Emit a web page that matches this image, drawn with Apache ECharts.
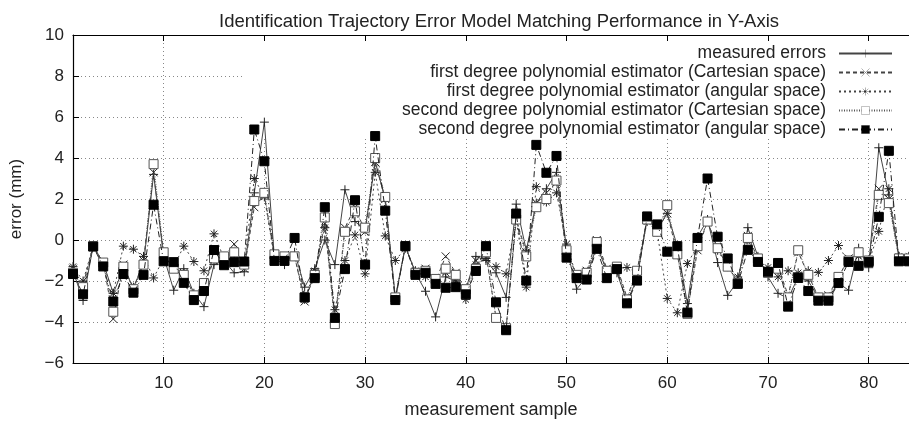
<!DOCTYPE html>
<html><head><meta charset="utf-8">
<script src="https://cdn.jsdelivr.net/npm/echarts@6/dist/echarts.min.js"></script>
<style>html,body{margin:0;padding:0;background:#fff}#c{width:909px;height:424px}</style>
</head><body><div id="c"></div>
<script>
const samples = [1,2,3,4,5,6,7,8,9,10,11,12,13,14,15,16,17,18,19,20,21,22,23,24,25,26,27,28,29,30,31,32,33,34,35,36,37,38,39,40,41,42,43,44,45,46,47,48,49,50,51,52,53,54,55,56,57,58,59,60,61,62,63,64,65,66,67,68,69,70,71,72,73,74,75,76,77,78,79,80,81,82,83,84];

const measured = [-1.5,-2.95,-0.3,-1.1,-2.6,-1.4,-2.3,-1.2,3.2,-0.8,-2.45,-1.4,-2.6,-3.25,-1.2,-1.0,-1.6,-1.55,2.3,5.75,-0.9,-1.2,-0.6,-2.3,-1.4,0.0,-1.2,2.45,0.9,0.5,3.8,2.0,-2.8,-0.3,-1.6,-2.5,-3.75,-1.8,-2.0,-2.4,-0.8,-1.0,-1.6,-2.8,1.75,-0.5,1.8,2.5,3.3,-0.4,-2.4,-1.8,-0.3,-1.5,-1.6,-3.0,-1.9,1.05,0.5,1.3,-0.3,-3.1,0.15,1.0,-1.1,-2.7,-2.0,0.6,-0.8,-1.8,-2.6,-2.85,-1.8,-2.0,-2.8,-2.8,-2.1,-2.45,-0.4,-1.35,4.5,2.2,-0.8,-0.8];

const firstCart = [-1.4,-2.2,-0.3,-1.1,-3.85,-1.2,-2.4,-1.0,3.3,-0.7,-1.4,-1.6,-2.7,-2.2,-1.0,-0.8,-0.2,-1.4,1.6,2.2,-0.8,-0.9,-0.8,-3.0,-1.6,0.8,-4.0,0.6,1.6,0.4,3.8,2.0,-2.9,-0.3,-1.6,-1.4,-2.0,-0.8,-1.6,-2.4,-1.0,-0.7,-3.8,-4.3,1.0,-0.6,1.8,2.3,2.8,-0.6,-1.7,-1.5,0.0,-1.4,-1.3,-2.8,-1.5,1.0,0.5,1.3,-0.7,-3.5,-0.5,0.9,-0.4,-1.3,-2.0,0.2,-0.9,-1.6,-1.3,-2.7,-0.6,-1.7,-2.8,-2.7,-1.8,-0.9,-0.6,-1.0,2.5,2.0,-0.9,-0.9];

const firstAng = [-1.3,-2.0,-0.3,-1.2,-2.6,-0.3,-0.45,-0.8,-1.85,-0.9,-1.3,-0.3,-1.05,-1.5,0.3,-0.9,-1.0,-1.2,3.0,2.1,-0.9,-1.0,-0.8,-2.9,-1.5,0.6,-3.4,-1.0,0.25,-1.65,3.3,0.2,-1.0,-0.4,-1.5,-1.8,-1.9,-1.6,-2.0,-2.9,-1.2,-0.9,-1.3,-1.65,1.0,-2.3,2.6,1.85,2.3,-0.2,-1.8,-1.6,-0.2,-1.5,-1.4,-1.34,-1.6,0.9,0.4,-2.85,-3.55,-1.15,-0.3,0.9,-0.5,-1.3,-1.8,0.0,-1.0,-1.34,-1.8,-1.5,-1.6,-1.5,-1.58,-1.0,-0.27,-1.1,-0.8,-1.1,0.42,2.5,-0.8,-0.8];

const secondCart = [-1.6,-2.3,-0.3,-1.1,-3.5,-1.3,-2.4,-1.2,3.7,-0.6,-1.4,-1.7,-2.7,-2.1,-0.9,-0.8,-0.6,-1.2,1.9,2.3,-0.7,-0.8,-0.8,-2.8,-1.7,1.1,-4.1,0.4,1.4,0.6,4.0,2.1,-2.8,-0.3,-1.6,-1.5,-1.9,-1.4,-1.7,-2.4,-1.4,-0.6,-3.8,-4.3,1.0,-0.8,1.6,2.0,2.9,-0.5,-1.7,-1.6,-0.1,-1.5,-1.3,-2.9,-1.5,1.0,0.4,1.7,-0.7,-3.6,-0.3,0.9,-0.4,-1.3,-2.1,0.1,-0.9,-1.6,-1.4,-2.8,-0.5,-1.7,-2.8,-2.8,-1.8,-1.0,-0.6,-1.0,2.2,1.8,-0.9,-0.9];

const secondAng = [-1.66,-2.65,-0.32,-1.29,-3.0,-1.66,-2.57,-1.7,1.72,-1.04,-1.08,-2.09,-2.93,-2.49,-0.49,-1.23,-1.08,-1.05,5.39,3.84,-1.02,-1.02,0.1,-2.8,-1.86,1.6,-3.8,-1.42,1.94,-1.2,5.07,1.43,-2.93,-0.3,-1.7,-1.6,-2.14,-2.33,-2.3,-2.65,-1.51,-0.3,-3.04,-4.4,1.29,-1.98,4.64,3.28,4.1,-0.86,-1.86,-1.93,-0.43,-1.86,-1.42,-3.09,-1.98,1.15,0.76,-0.57,-0.3,-3.54,0.1,3.0,0.16,-0.9,-2.14,-0.48,-1.07,-1.55,-1.12,-3.25,-1.85,-2.49,-2.96,-2.96,-2.1,-1.07,-1.26,-1.07,1.13,4.35,-1.04,-1.04];

const seriesNames = [
  'measured errors',
  'first degree polynomial estimator (Cartesian space)',
  'first degree polynomial estimator (angular space)',
  'second degree polynomial estimator (Cartesian space)',
  'second degree polynomial estimator (angular space)'
];
const yTicks = [-6,-4,-2,0,2,4,6,8,10];
const xTickLabels = [10,20,30,40,50,60,70,80];

function pairs(vals){ return samples.map((s,i)=>[s, vals[i]]); }

const FONT = '"Liberation Sans", Arial, sans-serif';
const TXT = '#222';

const styles = [
  {symbol:'path://M0,5L10,5M5,0L5,10', size:9, fill:'transparent', bc:'#222', line:'solid', lc:'#444'},
  {symbol:'path://M1,1L9,9M9,1L1,9', size:8, fill:'transparent', bc:'#222', line:[4,3], lc:'#444'},
  {symbol:'path://M0,5L10,5M5,0L5,10M1.5,1.5L8.5,8.5M8.5,1.5L1.5,8.5', size:9, fill:'transparent', bc:'#222', line:[2,3], lc:'#444'},
  {symbol:'rect', size:9, fill:'#fff', bc:'#555', line:[1,1.5], lc:'#555'},
  {symbol:'rect', size:9, fill:'#000', bc:'#000', line:[6,3,1,3], lc:'#222'}
];
const datasets = [measured, firstCart, firstAng, secondCart, secondAng];

const series = datasets.map((d,k)=>({
  name: seriesNames[k],
  type:'line',
  data: pairs(d),
  symbol: styles[k].symbol,
  symbolSize: styles[k].size,
  showAllSymbol: true,
  animation:false,
  itemStyle:{color: styles[k].fill, borderColor: styles[k].bc, borderWidth:1},
  lineStyle:{color: styles[k].lc, width:1, type: styles[k].line},
  emphasis:{disabled:true},
  z: 3+k
}));

const chart = echarts.init(document.getElementById('c'), null, {renderer:'canvas'});
chart.setOption({
  animation:false,
  backgroundColor:'#fff',
  title:{text:'Identification Trajectory Error Model Matching Performance in Y-Axis',
    left: 494, top: 7, textAlign:'center',
    textStyle:{fontFamily:FONT, fontSize:18.5, fontWeight:'normal', color:TXT}},
  legend:{
    orient:'vertical', right:0, top:42, align:'right',
    padding:[2,16,0,157],
    backgroundColor:'#fff',
    z:1,
    itemWidth:53, itemHeight:10, itemGap:0,
    itemStyle:{borderWidth:0.35},
    textStyle:{fontFamily:FONT, fontSize:17.5, lineHeight:19, color:TXT, padding:[0,8,0,0]},
    data: seriesNames,
    selectedMode:false
  },
  grid:{left:71, right:0, top:35, bottom:56, containLabel:false},
  xAxis:[{
    type:'value', min:1, max:84, splitNumber:8,
    name:'measurement sample', nameLocation:'middle', nameGap:38,
    nameTextStyle:{fontFamily:FONT, fontSize:18, color:TXT},
    axisLine:{show:true, onZero:false, lineStyle:{color:'#000', width:1.2}},
    axisTick:{show:true, inside:true, length:6, lineStyle:{color:'#000'}},
    axisLabel:{fontFamily:FONT, fontSize:17, color:TXT, margin:12,
      showMinLabel:false, showMaxLabel:false,
      formatter:v=> xTickLabels.indexOf(v)>=0 ? String(v) : ''},
    splitLine:{show:true, lineStyle:{color:'#888', type:[1,3], width:1}}
  },{
    type:'value', min:1, max:84, splitNumber:8, position:'top',
    axisLine:{show:true, onZero:false, lineStyle:{color:'#000', width:1.2}},
    axisTick:{show:true, inside:true, length:6, lineStyle:{color:'#000'}},
    axisLabel:{show:false}, splitLine:{show:false}
  }],
  yAxis:[{
    type:'value', min:-6, max:10, interval:2,
    name:'error (mm)', nameLocation:'middle', nameGap:48,
    nameTextStyle:{fontFamily:FONT, fontSize:17, color:TXT},
    axisLine:{show:true, onZero:false, lineStyle:{color:'#000', width:1.2}},
    axisTick:{show:true, inside:true, length:6, lineStyle:{color:'#000'}},
    axisLabel:{fontFamily:FONT, fontSize:17, color:TXT, margin:9,
      formatter:v=> yTicks.indexOf(v)>=0 ? String(v).replace('-', '\u2212') : ''},
    splitLine:{show:true, lineStyle:{color:'#888', type:[1,3], width:1}}
  }],
  series: series
});
</script></body></html>
